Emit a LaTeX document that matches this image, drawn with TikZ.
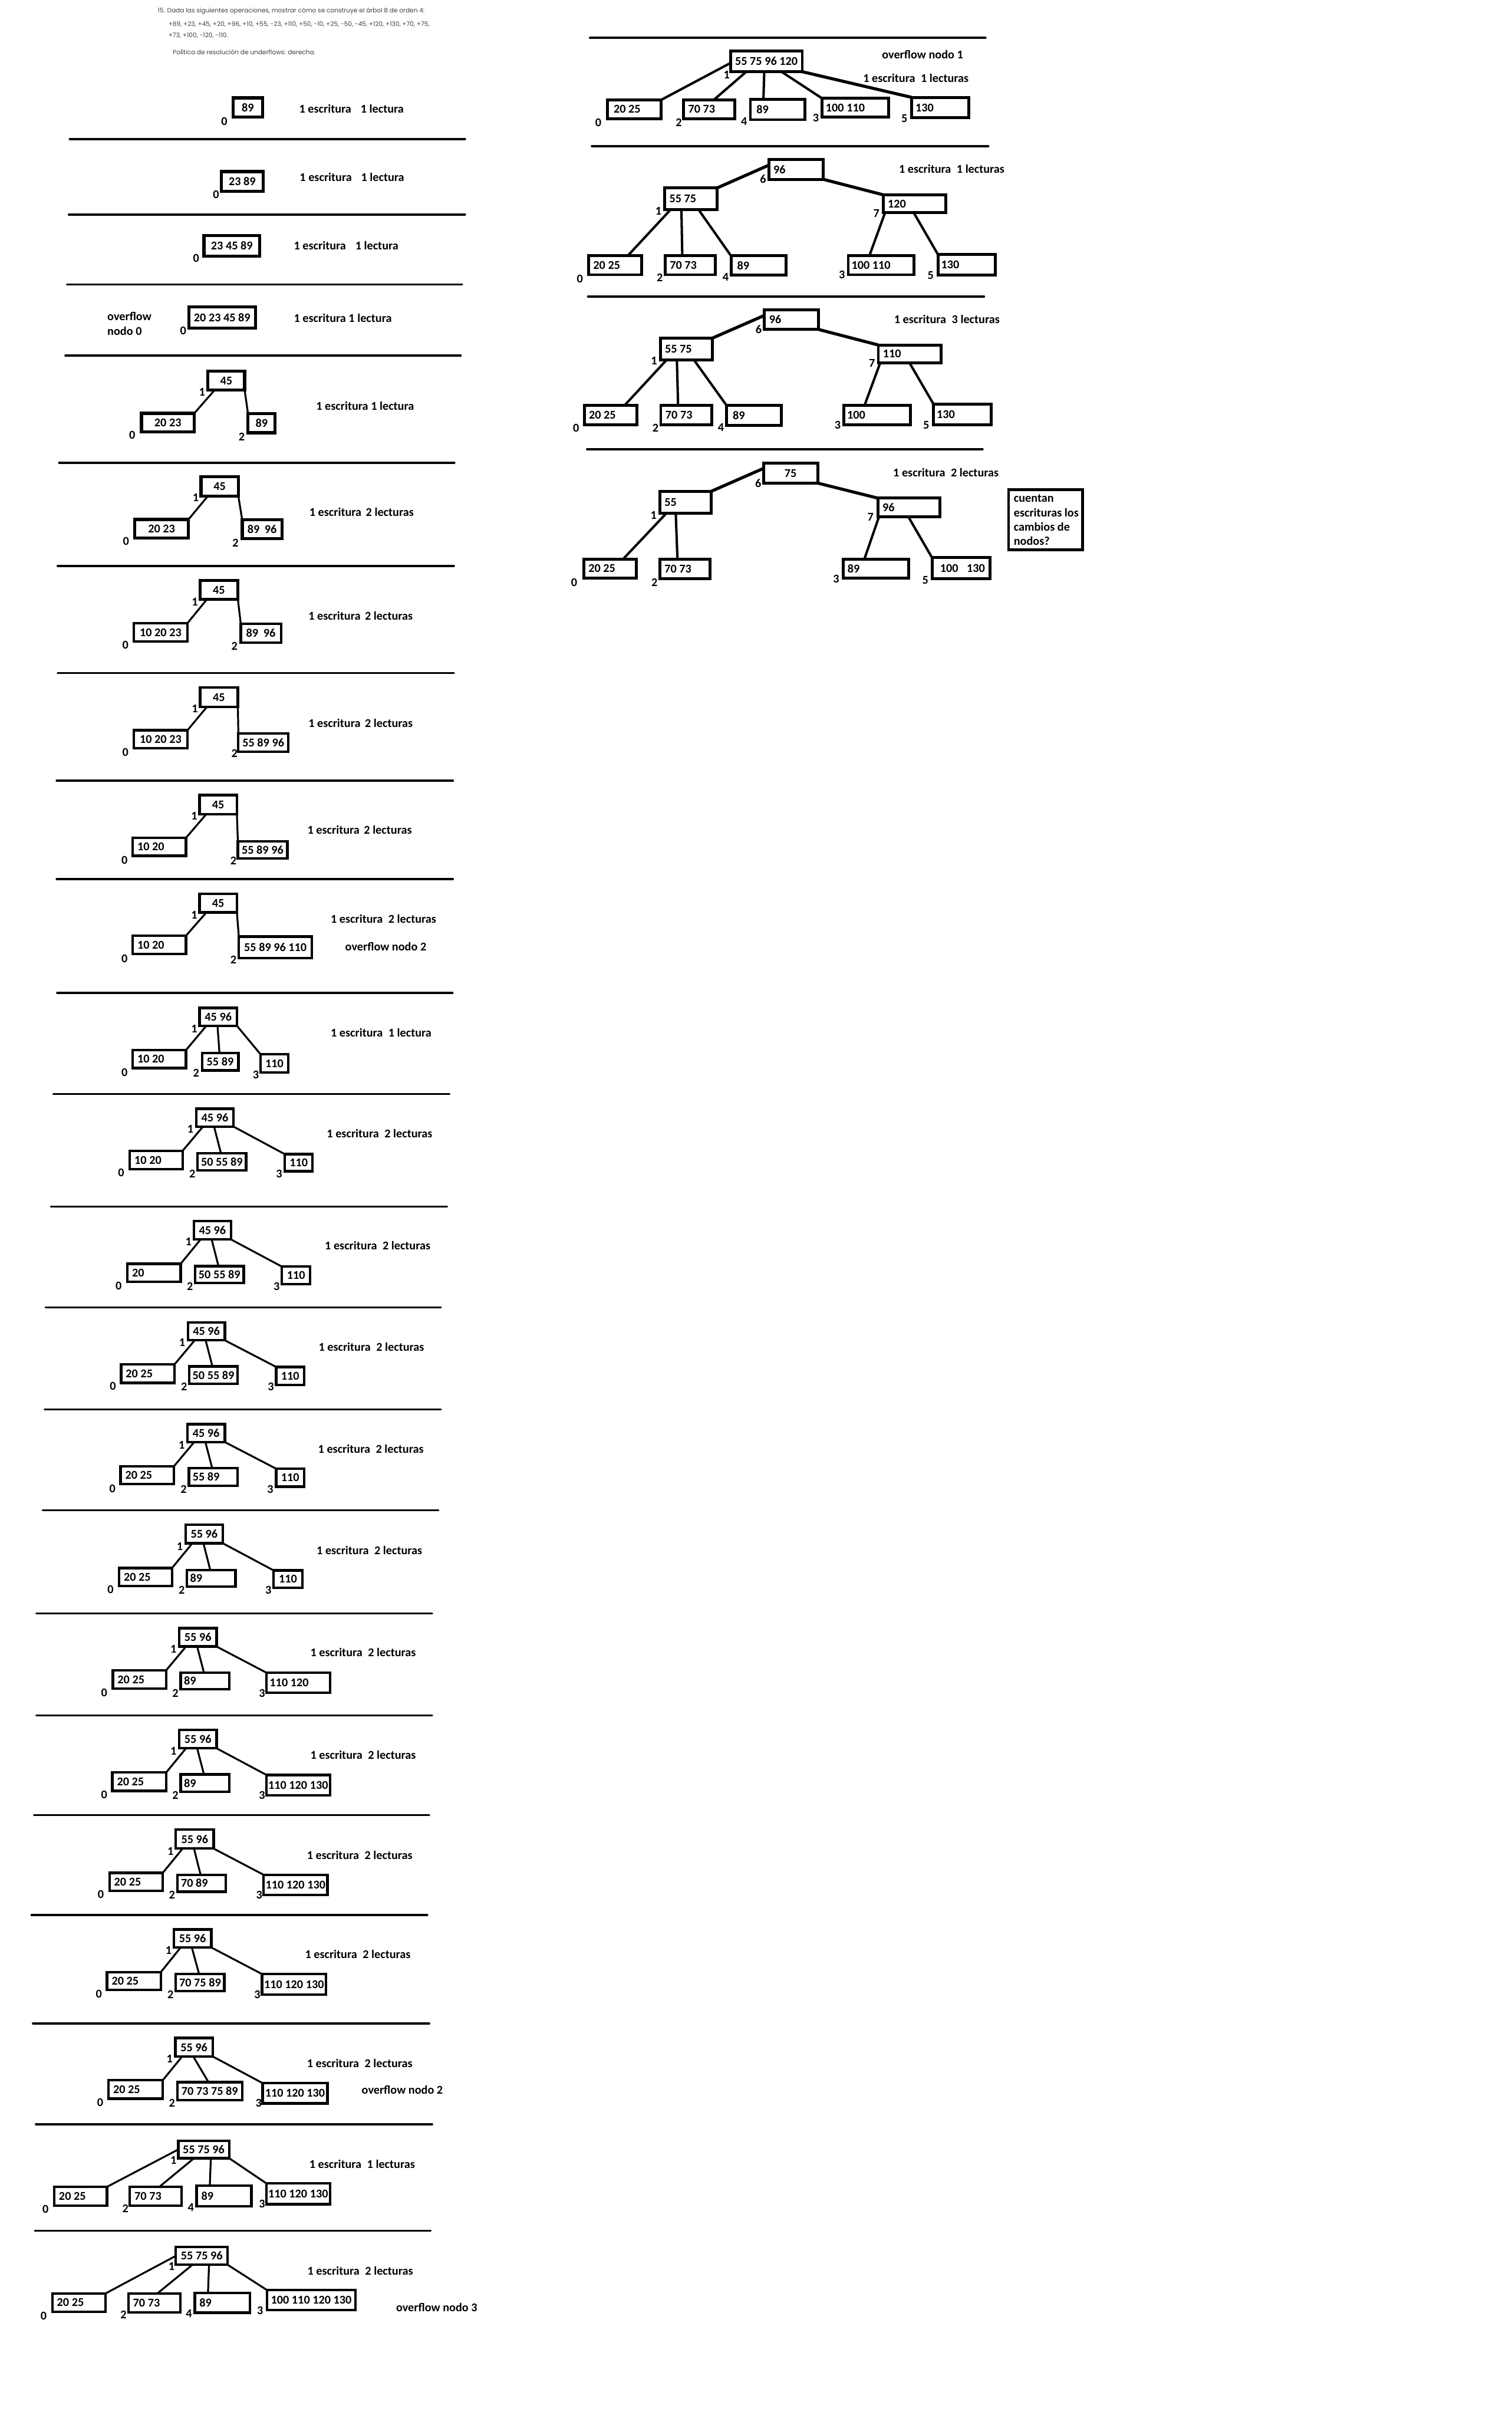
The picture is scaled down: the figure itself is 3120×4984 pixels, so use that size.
\documentclass[tikz,border=0pt]{standalone}
\usepackage{fontspec}
\newfontfamily\calib{Carlito}
\newfontfamily\hdrf{Poppins}
\usetikzlibrary{calc}
\def\pxu{0.28453pt}
\newcommand\lab{\calib\bfseries\fontsize{7pt}{8.4pt}\selectfont}
\newcommand\hdrfont{\hdrf\fontsize{3.65pt}{4.5pt}\selectfont}
\definecolor{hdrgray}{HTML}{404040}
\newcommand\gapA{\hspace{5.5pt}}
\newcommand\gapB{\hspace{2.6pt}}
\newcommand\gapC{\hspace{3.3pt}}
\tikzset{
 bx/.style={draw, line width=1.5pt, inner sep=0pt, outer sep=0pt, font=\lab},
 lbl/.style={font=\lab, inner sep=0pt},
 num/.style={font=\lab, inner sep=0pt},
 info/.style={font=\lab, anchor=west, inner sep=0pt, xshift={-6*\pxu}},
 hdr/.style={font=\hdrfont, anchor=west, inner sep=0pt, text=hdrgray},
 conn/.style={line width=1.1pt},
 sepl/.style={line width=1.2pt, line cap=round},
}
\newcommand\bxc[6]{\node[bx, minimum width={(#4-#2)*\pxu}, minimum height={(#5-#3)*\pxu}] (#1) at ({(#2+#4)/2},{(#3+#5)/2}) {#6};}
\newcommand\bxl[7][9]{\node[bx, minimum width={(#5-#3)*\pxu}, minimum height={(#6-#4)*\pxu}, label={[lbl, anchor=west, xshift={#1*\pxu}]west:{#7}}] (#2) at ({(#3+#5)/2},{(#4+#6)/2}) {};}
\newcommand\idx[4]{\node[num] (#1) at (#2,#3) {#4};}
\newcommand\inft[4]{\node[info] (#1) at (#2,#3) {#4};}
\newcommand\lcon[2]{\draw[conn] ([xshift={14*\pxu}]#1.south west) -- (#2.north east);}
\newcommand\rcon[2]{\draw[conn] (#1.south east) -- (#2.north west);}
\newcommand\mcon[2]{\draw[conn] ($(#1.south west)!0.48!(#1.south east)$) -- ($(#2.north west)!0.48!(#2.north east)$);}
\newcommand\fc[5]{\draw[conn] ($(#1.south west)!#2!(#1.south east)$) -- ($(#3.north west)!#4!(#3.north east)$);}
\begin{document}
\begin{tikzpicture}[x=0.01cm,y=-0.01cm]
\fill[white] (0,0) rectangle (3120,4984);
\useasboundingbox (0,0) rectangle (3120,4984);
% header
\node[hdr] (h1) at (325,23) {15. Dada las siguientes operaciones, mostrar cómo se construye el árbol B de orden 4:};
\node[hdr] (h2) at (347,50) {+89, +23, +45, +20, +96, +10, +55, -23, +110, +50, -10, +25, -50, -45, +120, +130, +70, +75,};
\node[hdr] (h3) at (347,74) {+73, +100, -120, -110.};
\node[hdr] (h4) at (356,107) {Política de resolución de underflows: derecha.};
% separators left
\foreach \yy/\xa/\xb in {287/144/960, 443/142/960, 587/138/954, 734/135/951, 955/122/938, 1168/119/937, 1389/119/937, 1611/117/935, 1814/117/935, 2049/118/934, 2258/110/928, 2490/105/923, 2698/94/910, 2909/92/910, 3117/88/905, 3330/75/892, 3540/75/892, 3746/70/886, 3952/65/882, 4176/68/886, 4384/74/892, 4604/72/889}
  \draw[sepl] (\xa,\yy) -- (\xb,\yy);
\begin{scope}[bx/.append style={line width=1.8pt}]
% P1
\bxc{a1}{481}{202}{542}{242}{89}
\idx{a1n0}{463}{250}{0}
\inft{a1i}{623}{224}{1 escritura\gapA 1 lectura}
% P2
\bxc{a2}{457}{354}{543}{395}{23 89}
\idx{a2n0}{446}{401}{0}
\inft{a2i}{624}{366}{1 escritura\gapA 1 lectura}
% P3
\bxc{a3}{421}{486}{536}{529}{23 45 89}
\idx{a3n0}{405}{533}{0}
\inft{a3i}{612}{507}{1 escritura\gapA 1 lectura}
% P4
\bxc{a4}{390}{633}{527}{677}{20 23 45 89}
\idx{a4n0}{378}{682}{0}
\node[info, align=left] (a4o) at (227,668) {overflow\\nodo 0};
\inft{a4i}{612}{656}{1 escritura 1 lectura}
% P5
\bxc{a5r}{429}{766}{505}{805}{45}
\bxc{a5l}{292}{853}{401}{891}{20 23}
\bxc{a5x}{512}{854}{568}{893}{89}
\idx{a5n1}{417}{809}{1}\idx{a5n0}{273}{898}{0}\idx{a5n2}{499}{901}{2}
\lcon{a5r}{a5l}\rcon{a5r}{a5x}
\inft{a5i}{658}{838}{1 escritura 1 lectura}
% P6
\bxc{a6r}{415}{984}{492}{1024}{45}
\bxc{a6l}{278}{1072}{389}{1110}{20 23}
\bxc{a6x}{500}{1073}{582}{1112}{89\hspace{3pt}96}
\idx{a6n1}{404}{1027}{1}\idx{a6n0}{260}{1117}{0}\idx{a6n2}{486}{1120}{2}
\lcon{a6r}{a6l}\rcon{a6r}{a6x}
\inft{a6i}{644}{1057}{1 escritura\gapB 2 lecturas}
\end{scope}
% P7
\bxc{a7r}{413}{1198}{491}{1237}{45}
\bxc{a7l}{276}{1286}{387}{1324}{10 20 23}
\bxc{a7x}{497}{1287}{580}{1326}{89\hspace{3pt}96}
\idx{a7n1}{402}{1242}{1}\idx{a7n0}{259}{1331}{0}\idx{a7n2}{484}{1334}{2}
\lcon{a7r}{a7l}\rcon{a7r}{a7x}
\inft{a7i}{642}{1271}{1 escritura\gapB 2 lecturas}
% P8
\bxc{a8r}{413}{1419}{491}{1459}{45}
\bxc{a8l}{276}{1507}{387}{1544}{10 20 23}
\bxc{a8x}{492}{1514}{595}{1551}{55 89 96}
\idx{a8n1}{402}{1462}{1}\idx{a8n0}{259}{1553}{0}\idx{a8n2}{484}{1555}{2}
\lcon{a8r}{a8l}\rcon{a8r}{a8x}
\inft{a8i}{642}{1492}{1 escritura\gapB 2 lecturas}
% P9
\bxc{a9r}{412}{1641}{489}{1680}{45}
\bxl{a9l}{274}{1729}{384}{1766}{10 20}
\bxc{a9x}{491}{1736}{593}{1772}{55 89 96}
\idx{a9n1}{401}{1684}{1}\idx{a9n0}{257}{1775}{0}\idx{a9n2}{482}{1776}{2}
\lcon{a9r}{a9l}\rcon{a9r}{a9x}
\inft{a9i}{640}{1713}{1 escritura\gapB 2 lecturas}
% P10
\bxc{b0r}{412}{1845}{489}{1883}{45}
\bxl{b0l}{274}{1931}{384}{1969}{10 20}
\bxc{b0x}{493}{1933}{644}{1977}{55 89 96 110}
\idx{b0n1}{401}{1888}{1}\idx{b0n0}{257}{1978}{0}\idx{b0n2}{482}{1981}{2}
\lcon{b0r}{b0l}\rcon{b0r}{b0x}
\inft{b0i}{688}{1896}{1 escritura\gapC 2 lecturas}
\inft{b0o}{718}{1954}{overflow nodo 2}
% P11
\bxc{b1r}{412}{2080}{489}{2117}{45 96}
\bxl{b1l}{274}{2167}{384}{2204}{10 20}
\bxc{b1m}{417}{2173}{492}{2209}{55 89}
\bxc{b1x}{538}{2176}{595}{2213}{110}
\idx{b1n1}{401}{2123}{1}\idx{b1n0}{257}{2213}{0}\idx{b1n2}{405}{2214}{2}\idx{b1n3}{528}{2218}{3}
\lcon{b1r}{b1l}\mcon{b1r}{b1m}\rcon{b1r}{b1x}
\inft{b1i}{688}{2131}{1 escritura\gapC 1 lectura}
% P12
\bxc{b2r}{405}{2288}{482}{2325}{45 96}
\bxl{b2l}{268}{2375}{377}{2413}{10 20}
\bxc{b2m}{408}{2380}{508}{2415}{50 55 89}
\bxc{b2x}{588}{2382}{645}{2417}{110}
\idx{b2n1}{393}{2330}{1}\idx{b2n0}{250}{2420}{0}\idx{b2n2}{397}{2422}{2}\idx{b2n3}{576}{2422}{3}
\lcon{b2r}{b2l}\mcon{b2r}{b2m}\rcon{b2r}{b2x}
\inft{b2i}{680}{2339}{1 escritura\gapC 2 lecturas}
% P13
\bxc{b3r}{400}{2520}{477}{2558}{45 96}
\bxl{b3l}{263}{2608}{373}{2645}{20}
\bxc{b3m}{403}{2613}{503}{2648}{50 55 89}
\bxc{b3x}{582}{2614}{640}{2650}{110}
\idx{b3n1}{389}{2563}{1}\idx{b3n0}{245}{2654}{0}\idx{b3n2}{392}{2655}{2}\idx{b3n3}{571}{2655}{3}
\lcon{b3r}{b3l}\mcon{b3r}{b3m}\rcon{b3r}{b3x}
\inft{b3i}{676}{2571}{1 escritura\gapC 2 lecturas}
% P14
\bxc{b4r}{388}{2729}{464}{2766}{45 96}
\bxl{b4l}{250}{2816}{360}{2854}{20 25}
\bxc{b4m}{391}{2820}{490}{2856}{50 55 89}
\bxc{b4x}{570}{2821}{628}{2858}{110}
\idx{b4n1}{376}{2771}{1}\idx{b4n0}{233}{2861}{0}\idx{b4n2}{380}{2862}{2}\idx{b4n3}{559}{2862}{3}
\lcon{b4r}{b4l}\mcon{b4r}{b4m}\rcon{b4r}{b4x}
\inft{b4i}{663}{2780}{1 escritura\gapC 2 lecturas}
% P15
\bxc{b5r}{387}{2939}{464}{2976}{45 96}
\bxl{b5l}{249}{3026}{359}{3063}{20 25}
\bxl[7]{b5m}{390}{3030}{490}{3066}{55 89}
\bxc{b5x}{570}{3031}{628}{3068}{110}
\idx{b5n1}{375}{2982}{1}\idx{b5n0}{232}{3072}{0}\idx{b5n2}{379}{3073}{2}\idx{b5n3}{558}{3073}{3}
\lcon{b5r}{b5l}\mcon{b5r}{b5m}\rcon{b5r}{b5x}
\inft{b5i}{662}{2990}{1 escritura\gapC 2 lecturas}
% P16
\bxc{b6r}{383}{3147}{460}{3185}{55 96}
\bxl{b6l}{246}{3236}{355}{3273}{20 25}
\bxl[6]{b6m}{386}{3240}{486}{3274}{89}
\bxc{b6x}{565}{3241}{624}{3277}{110}
\idx{b6n1}{371}{3191}{1}\idx{b6n0}{228}{3280}{0}\idx{b6n2}{375}{3281}{2}\idx{b6n3}{554}{3281}{3}
\lcon{b6r}{b6l}\mcon{b6r}{b6m}\rcon{b6r}{b6x}
\inft{b6i}{659}{3199}{1 escritura\gapC 2 lecturas}
% P17
\bxc{b7r}{370}{3360}{447}{3398}{55 96}
\bxl{b7l}{233}{3447}{343}{3485}{20 25}
\bxl[6]{b7m}{373}{3452}{473}{3486}{89}
\bxl[6]{b7x}{550}{3452}{681}{3493}{110 120}
\idx{b7n1}{358}{3403}{1}\idx{b7n0}{215}{3493}{0}\idx{b7n2}{362}{3495}{2}\idx{b7n3}{541}{3495}{3}
\lcon{b7r}{b7l}\mcon{b7r}{b7m}\rcon{b7r}{b7x}
\inft{b7i}{646}{3410}{1 escritura\gapC 2 lecturas}
% P18
\bxc{b8r}{370}{3570}{447}{3608}{55 96}
\bxl{b8l}{232}{3658}{343}{3696}{20 25}
\bxl[6]{b8m}{373}{3662}{473}{3698}{89}
\bxc{b8x}{550}{3663}{681}{3705}{110 120 130}
\idx{b8n1}{358}{3614}{1}\idx{b8n0}{215}{3704}{0}\idx{b8n2}{362}{3705}{2}\idx{b8n3}{541}{3705}{3}
\lcon{b8r}{b8l}\mcon{b8r}{b8m}\rcon{b8r}{b8x}
\inft{b8i}{646}{3622}{1 escritura\gapC 2 lecturas}
% P19
\bxc{b9r}{363}{3776}{441}{3815}{55 96}
\bxl{b9l}{226}{3865}{336}{3902}{20 25}
\bxl[7]{b9m}{366}{3869}{466}{3904}{70 89}
\bxc{b9x}{544}{3869}{676}{3911}{110 120 130}
\idx{b9n1}{352}{3820}{1}\idx{b9n0}{208}{3910}{0}\idx{b9n2}{355}{3911}{2}\idx{b9n3}{535}{3911}{3}
\lcon{b9r}{b9l}\mcon{b9r}{b9m}\rcon{b9r}{b9x}
\inft{b9i}{639}{3828}{1 escritura\gapC 2 lecturas}
% P20
\bxc{c0r}{359}{3982}{436}{4019}{55 96}
\bxl{c0l}{221}{4070}{332}{4107}{20 25}
\bxc{c0m}{363}{4074}{463}{4109}{70 75 89}
\bxc{c0x}{541}{4074}{673}{4116}{110 120 130}
\idx{c0n1}{348}{4025}{1}\idx{c0n0}{204}{4115}{0}\idx{c0n2}{352}{4116}{2}\idx{c0n3}{531}{4116}{3}
\lcon{c0r}{c0l}\mcon{c0r}{c0m}\rcon{c0r}{c0x}
\inft{c0i}{635}{4033}{1 escritura\gapC 2 lecturas}
% P21
\bxc{c1r}{362}{4206}{439}{4244}{55 96}
\bxl{c1l}{224}{4293}{336}{4331}{20 25}
\bxc{c1m}{366}{4297}{500}{4334}{70 73 75 89}
\bxc{c1x}{542}{4299}{676}{4341}{110 120 130}
\idx{c1n1}{350}{4249}{1}\idx{c1n0}{207}{4339}{0}\idx{c1n2}{355}{4340}{2}\idx{c1n3}{534}{4340}{3}
\lcon{c1r}{c1l}\mcon{c1r}{c1m}\rcon{c1r}{c1x}
\inft{c1i}{639}{4258}{1 escritura\gapC 2 lecturas}
\inft{c1o}{752}{4313}{overflow nodo 2}
% P22
\bxc{c2r}{368}{4418}{473}{4454}{55 75 96}
\bxl{c2a}{112}{4513}{221}{4552}{20 25}
\bxl{c2b}{268}{4513}{375}{4552}{70 73}
\bxl{c2c}{406}{4511}{519}{4553}{89}
\bxc{c2d}{550}{4506}{681}{4549}{110 120 130}
\idx{c2n1}{358}{4458}{1}\idx{c2n0}{94}{4559}{0}\idx{c2n2}{259}{4558}{2}\idx{c2n4}{394}{4556}{4}\idx{c2n3}{541}{4548}{3}
\draw[conn] (c2r.west) -- (c2a.north east);
\fc{c2r}{0.31}{c2b}{0.57}{}
\fc{c2r}{0.64}{c2c}{0.24}{}
\rcon{c2r}{c2d}
\inft{c2i}{644}{4466}{1 escritura\gapC 1 lecturas}
% P23
\bxc{c3r}{363}{4637}{470}{4674}{55 75 96}
\bxl{c3a}{108}{4733}{218}{4771}{20 25}
\bxl{c3b}{265}{4733}{372}{4772}{70 73}
\bxl{c3c}{402}{4732}{516}{4773}{89}
\bxc{c3d}{551}{4726}{734}{4767}{100 110 120 130}
\idx{c3n1}{354}{4677}{1}\idx{c3n0}{90}{4779}{0}\idx{c3n2}{255}{4777}{2}\idx{c3n4}{390}{4775}{4}\idx{c3n3}{537}{4769}{3}
\draw[conn] (c3r.west) -- (c3a.north east);
\fc{c3r}{0.32}{c3b}{0.56}{}
\fc{c3r}{0.64}{c3c}{0.24}{}
\rcon{c3r}{c3d}
\inft{c3i}{640}{4686}{1 escritura\gapC 2 lecturas}
\inft{c3o}{823}{4762}{overflow nodo 3}
% ---------------- right column
\begin{scope}[bx/.append style={line width=1.7pt}, conn/.append style={line width=1.4pt}, sepl/.append style={line width=1.4pt}]
\draw[sepl] (1218,78) -- (2034,78);
\draw[sepl] (1222,302) -- (2040,302);
\draw[sepl] (1214,612) -- (2031,612);
\draw[sepl] (1212,927) -- (2028,927);
% R1
\bxc{r1}{1508}{105}{1656}{148}{55 75 96 120}
\bxl[12]{r1a}{1254}{206}{1365}{245}{20 25}
\bxl{r1b}{1411}{206}{1517}{245}{70 73}
\bxl[12]{r1c}{1549}{205}{1661}{247}{89}
\bxl[7]{r1d}{1697}{203}{1834}{242}{100 110}
\bxl[7]{r1e}{1882}{201}{2000}{243}{130}
\idx{r1n1}{1500}{154}{1}\idx{r1n0}{1235}{253}{0}\idx{r1n2}{1401}{253}{2}\idx{r1n4}{1536}{250}{4}\idx{r1n3}{1684}{243}{3}\idx{r1n5}{1867}{245}{5}
\draw[conn] ($(r1.north west)!0.58!(r1.south west)$) -- (r1a.north east);
\fc{r1}{0.22}{r1b}{0.59}{}
\fc{r1}{0.47}{r1c}{0.24}{}
\fc{r1}{0.71}{r1d}{0}{}
\draw[conn, line width=1.8pt] (r1.south east) -- (r1e.north west);
\inft{r1o}{1826}{113}{overflow nodo 1}
\inft{r1i}{1787}{161}{1 escritura\gapC 1 lecturas}
% R2
\bxl{r2t}{1587}{329}{1699}{370}{96}
\bxl{r2a}{1372}{388}{1480}{433}{55 75}
\bxl{r2b}{1823}{402}{1952}{439}{120}
\bxl{r2l0}{1215}{528}{1324}{567}{20 25}
\bxl{r2l2}{1373}{528}{1477}{567}{70 73}
\bxl[12]{r2l4}{1509}{528}{1623}{568}{89}
\bxl[6]{r2l3}{1751}{528}{1887}{567}{100 110}
\bxl[6]{r2l5}{1936}{525}{2054}{568}{130}
\idx{r2n6}{1575}{370}{6}\idx{r2n1}{1359}{436}{1}\idx{r2n7}{1809}{440}{7}
\idx{r2n0}{1197}{575}{0}\idx{r2n2}{1362}{573}{2}\idx{r2n4}{1498}{572}{4}\idx{r2n3}{1738}{567}{3}\idx{r2n5}{1921}{568}{5}
\draw[conn, line width=1.8pt] ($(r2t.north west)!0.29!(r2t.south west)$) -- (r2a.north east);
\draw[conn, line width=1.8pt] (r2t.south east) -- (r2b.north west);
\fc{r2a}{0.11}{r2l0}{0.74}{}
\fc{r2a}{0.32}{r2l2}{0.34}{}
\fc{r2a}{0.65}{r2l4}{0}{}
\fc{r2b}{0.03}{r2l3}{0.32}{}
\fc{r2b}{0.49}{r2l5}{0}{}
\inft{r2i}{1861}{349}{1 escritura\gapC 1 lecturas}
% R3
\bxl{r3t}{1578}{639}{1690}{680}{96}
\bxl{r3a}{1363}{698}{1470}{743}{55 75}
\bxl{r3b}{1813}{712}{1942}{749}{110}
\bxl{r3l0}{1206}{837}{1315}{877}{20 25}
\bxl{r3l2}{1364}{837}{1469}{877}{70 73}
\bxl[12]{r3l4}{1500}{837}{1613}{878}{89}
\bxl[6]{r3l3}{1742}{837}{1879}{877}{100}
\bxl[6]{r3l5}{1927}{834}{2046}{877}{130}
\idx{r3n6}{1566}{680}{6}\idx{r3n1}{1350}{745}{1}\idx{r3n7}{1800}{750}{7}
\idx{r3n0}{1189}{883}{0}\idx{r3n2}{1353}{883}{2}\idx{r3n4}{1488}{882}{4}\idx{r3n3}{1729}{877}{3}\idx{r3n5}{1912}{877}{5}
\draw[conn, line width=1.8pt] ($(r3t.north west)!0.29!(r3t.south west)$) -- (r3a.north east);
\draw[conn, line width=1.8pt] (r3t.south east) -- (r3b.north west);
\fc{r3a}{0.12}{r3l0}{0.76}{}
\fc{r3a}{0.32}{r3l2}{0.34}{}
\fc{r3a}{0.65}{r3l4}{0}{}
\fc{r3b}{0.03}{r3l3}{0.31}{}
\fc{r3b}{0.5}{r3l5}{0}{}
\inft{r3i}{1851}{659}{1 escritura\gapC 3 lecturas}
% R4
\bxc{r4t}{1576}{956}{1688}{997}{75}
\bxl{r4a}{1362}{1014}{1468}{1059}{55}
\bxl{r4b}{1812}{1028}{1940}{1066}{96}
\bxl{r4l0}{1205}{1154}{1313}{1193}{20 25}
\bxl{r4l2}{1362}{1154}{1466}{1194}{70 73}
\bxl[8]{r4l3}{1741}{1154}{1876}{1193}{89}
\bxl[16]{r4l5}{1924}{1151}{2043}{1194}{100\hspace{5pt}130}
\idx{r4n6}{1565}{997}{6}\idx{r4n1}{1349}{1063}{1}\idx{r4n7}{1797}{1067}{7}
\idx{r4n0}{1185}{1202}{0}\idx{r4n2}{1351}{1202}{2}\idx{r4n3}{1726}{1195}{3}\idx{r4n5}{1910}{1197}{5}
\draw[conn, line width=1.8pt] ($(r4t.north west)!0.26!(r4t.south west)$) -- (r4a.north east);
\draw[conn, line width=1.8pt] (r4t.south east) -- (r4b.north west);
\fc{r4a}{0.13}{r4l0}{0.75}{}
\fc{r4a}{0.31}{r4l2}{0.35}{}
\fc{r4b}{0.02}{r4l3}{0.32}{}
\fc{r4b}{0.49}{r4l5}{0}{}
\inft{r4i}{1849}{975}{1 escritura\gapC 2 lecturas}
\node[bx, minimum width={153*\pxu}, minimum height={124*\pxu}, label={[lbl, align=left, anchor=west, xshift={10*\pxu}]west:{cuentan\\escrituras los\\cambios de\\nodos?}}] (note) at (2158.5,1073) {};
\end{scope}
\end{tikzpicture}
\end{document}
